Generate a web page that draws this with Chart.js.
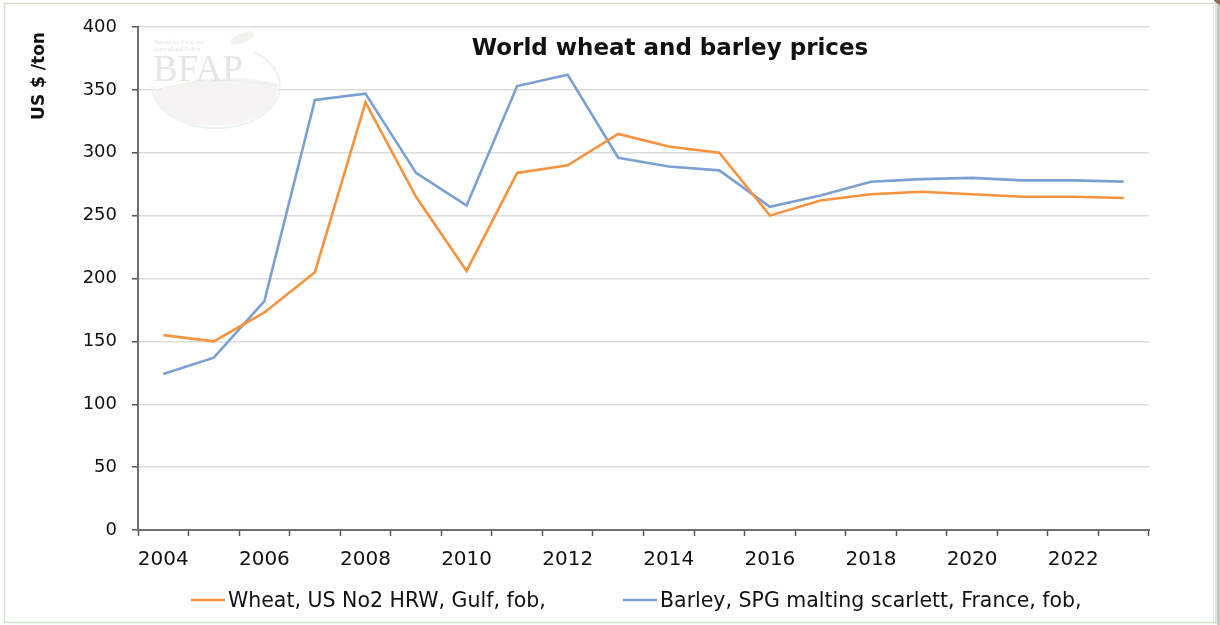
<!DOCTYPE html>
<html>
<head>
<meta charset="utf-8">
<script src="https://cdn.jsdelivr.net/npm/chart.js@4.4.1/dist/chart.umd.min.js"></script>
<style>
  html, body { margin: 0; padding: 0; background: #ffffff; }
  #wrap { position: absolute; left: 0; top: 0; width: 1220px; height: 625px; }
</style>
</head>
<body>
<div id="wrap"><canvas id="c" width="1220" height="625"></canvas></div>
<script>
// ---- data ----
const years = ['2004','2005','2006','2007','2008','2009','2010','2011','2012','2013',
               '2014','2015','2016','2017','2018','2019','2020','2021','2022','2023'];
const wheat  = [155, 150, 173, 205, 340, 265, 206, 284, 290, 315,
                305, 300, 250, 262, 267, 269, 267, 265, 265, 264];
const barley = [124, 137, 182, 342, 347, 284, 258, 353, 362, 296,
                289, 286, 257, 266, 277, 279, 280, 278, 278, 277];
const yTicks = [0, 50, 100, 150, 200, 250, 300, 350, 400];
const seriesNames = ['Wheat, US No2 HRW, Gulf, fob,', 'Barley, SPG malting scarlett, France, fob,'];
const titleText = 'World wheat and barley prices';
const yTitleText = 'US $ /ton';

const ORANGE = '#F7923F';
const BLUE = '#7AA1D2';
const FONT = "'DejaVu Sans', 'Liberation Sans', Arial, sans-serif";

const framePlugin = {
  id: 'frame',
  beforeDraw(chart) {
    const ctx = chart.ctx;
    ctx.save();
    ctx.fillStyle = '#ffffff';
    ctx.fillRect(0, 0, chart.width, chart.height);
    ctx.fillStyle = '#c3ccc3';
    ctx.fillRect(1217, 0, 3, 625);
    ctx.strokeStyle = '#d3dfcf';
    ctx.lineWidth = 1.5;
    ctx.strokeRect(4.5, 3.5, 1211.5, 619);
    ctx.strokeStyle = '#e2e8e0';
    ctx.lineWidth = 1;
    ctx.beginPath(); ctx.moveTo(1213.5, 5); ctx.lineTo(1213.5, 621); ctx.stroke();
    ctx.fillStyle = '#8a6c58';
    ctx.beginPath(); ctx.arc(1222, -4, 9, 0, Math.PI * 2); ctx.fill();
    ctx.restore();
  },
  beforeDatasetsDraw(chart) {
    // faint BFAP watermark
    const ctx = chart.ctx;
    ctx.save();
    // lower crescent swoosh
    ctx.fillStyle = '#f5f4f1';
    ctx.beginPath();
    ctx.moveTo(155, 92);
    ctx.quadraticCurveTo(215, 68, 278, 84);
    ctx.bezierCurveTo(280, 110, 250, 126, 215, 126);
    ctx.bezierCurveTo(180, 126, 156, 112, 155, 92);
    ctx.fill();
    ctx.strokeStyle = '#eef2ea';
    ctx.lineWidth = 1.5;
    ctx.beginPath();
    ctx.moveTo(155, 90);
    ctx.quadraticCurveTo(215, 74, 278, 86);
    ctx.stroke();
    ctx.strokeStyle = '#eef3eb';
    ctx.lineWidth = 2;
    ctx.beginPath();
    ctx.ellipse(216, 86, 64, 42, 0, -0.3 * Math.PI, 1.0 * Math.PI);
    ctx.stroke();
    ctx.fillStyle = '#f0f4ed';
    ctx.beginPath();
    ctx.ellipse(242, 38, 13, 5, -0.4, 0, Math.PI * 2);
    ctx.fill();
    ctx.fillStyle = '#e6e6e6';
    ctx.font = "37px 'Liberation Serif', 'DejaVu Serif', serif";
    ctx.textBaseline = 'alphabetic';
    ctx.textAlign = 'left';
    ctx.fillText('BFAP', 153, 81);
    ctx.fillStyle = '#e6e6e6';
    ctx.font = "6px 'Liberation Serif', serif";
    ctx.fillText('Bureau for Food and', 154, 44);
    ctx.fillText('Agricultural Policy', 154, 51);
    ctx.restore();
  },
  afterDraw(chart) {
    const ctx = chart.ctx;
    ctx.save();
    // title
    ctx.fillStyle = '#111';
    ctx.font = 'bold 23px ' + FONT;
    ctx.textAlign = 'center';
    ctx.textBaseline = 'alphabetic';
    ctx.fillText(titleText, 670, 55);
    // y axis title
    ctx.save();
    ctx.translate(44, 76);
    ctx.rotate(-Math.PI / 2);
    ctx.font = 'bold 17px ' + FONT;
    ctx.textAlign = 'center';
    ctx.fillText(yTitleText, 0, 0);
    ctx.restore();
    // legend
    const items = [
      { x: 191, color: chart.data.datasets[0].borderColor, text: chart.data.datasets[0].label },
      { x: 623, color: chart.data.datasets[1].borderColor, text: chart.data.datasets[1].label }
    ];
    ctx.font = '20.5px ' + FONT;
    ctx.textAlign = 'left';
    items.forEach(it => {
      ctx.strokeStyle = it.color;
      ctx.lineWidth = 2.5;
      ctx.beginPath(); ctx.moveTo(it.x, 600); ctx.lineTo(it.x + 34, 600); ctx.stroke();
      ctx.fillStyle = '#111';
      ctx.fillText(it.text, it.x + 37, 607);
    });
    ctx.restore();
  }
};

new Chart(document.getElementById('c'), {
  type: 'line',
  data: {
    labels: years,
    datasets: [
      { label: seriesNames[0], data: wheat, borderColor: ORANGE, backgroundColor: ORANGE,
        borderWidth: 2.6, pointRadius: 0, tension: 0, fill: false },
      { label: seriesNames[1], data: barley, borderColor: BLUE, backgroundColor: BLUE,
        borderWidth: 2.6, pointRadius: 0, tension: 0, fill: false }
    ]
  },
  options: {
    responsive: false,
    animation: false,
    devicePixelRatio: 1,
    layout: { padding: { left: 0, right: 71, top: 27, bottom: 0 } },
    plugins: { legend: { display: false }, title: { display: false }, tooltip: { enabled: false } },
    scales: {
      x: {
        type: 'category',
        offset: true,
        grid: { display: true, offset: true, drawOnChartArea: false, drawTicks: true,
                tickLength: 6, tickColor: '#555', tickWidth: 1.5 },
        border: { display: true, color: '#6f6f6f', width: 2 },
        ticks: {
          autoSkip: false, maxRotation: 0, minRotation: 0, padding: 12,
          color: '#111', font: { family: FONT, size: 20 },
          callback: (v, i) => (i % 2 === 0 ? years[i] : '')
        },
        afterFit: (s) => { s.height = 95; }
      },
      y: {
        min: 0, max: 400,
        afterBuildTicks: (s) => { s.ticks = yTicks.map(v => ({ value: v })); },
        grid: { color: '#dcdcdc', lineWidth: 1.5, drawTicks: true, tickLength: 6,
                tickColor: '#555', tickWidth: 1.5 },
        border: { display: true, color: '#6f6f6f', width: 2 },
        ticks: { padding: 15, color: '#111', font: { family: FONT, size: 18 } },
        afterFit: (s) => { s.width = 138; }
      }
    }
  },
  plugins: [framePlugin]
});
</script>
</body>
</html>
